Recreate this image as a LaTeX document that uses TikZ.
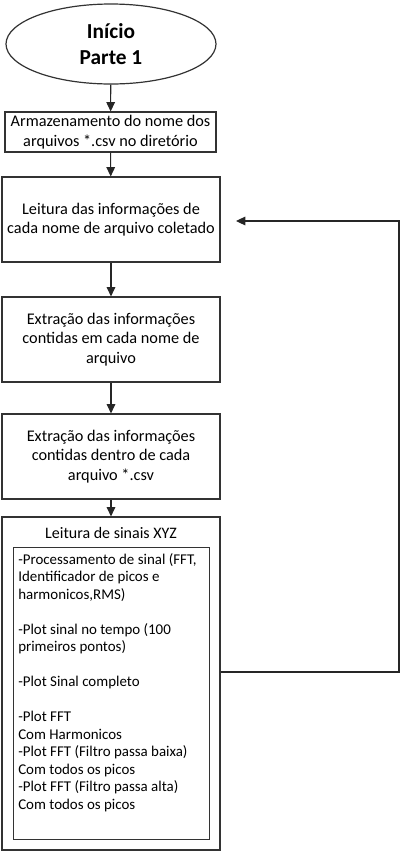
\documentclass[tikz,border=0pt]{standalone}
\usepackage{fontspec}
\setmainfont{Carlito}
\usetikzlibrary{arrows.meta,positioning,calc,shapes.geometric}

\tikzset{
  caixa/.style={draw=black!80, line width=0.9pt, align=center,
    minimum width=163.5pt, minimum height=63.75pt, inner sep=2pt,
    font=\fontsize{12.2}{14.6}\selectfont},
  seta/.style={draw=black!85, line width=0.8pt, -{Triangle[length=7pt,width=6.5pt]}},
}

\begin{document}
\begin{tikzpicture}[x=0.75pt,y=-0.75pt]
  \useasboundingbox (0,0) rectangle (400,851);
  % início
  \node[draw=black!80, line width=0.9pt, ellipse, minimum width=157.5pt, minimum height=60pt,
    align=center, font=\fontsize{16}{19}\selectfont\bfseries] (inicio) at (111,44) {Início\\Parte 1};
  % caixas do fluxo
  \node[caixa, minimum width=158.25pt, minimum height=30pt] (armaz) at (110.5,132)
    {Armazenamento do nome dos\\arquivos *.csv no diretório};
  \node[caixa] (leitura) at (111,219.5) {Leitura das informações de\\cada nome de arquivo coletado};
  \node[caixa] (extrnome) at (111,339.5) {Extração das informações\\contidas em cada nome de\\arquivo};
  \node[caixa] (extrcsv) at (111,456.5) {Extração das informações\\contidas dentro de cada\\arquivo *.csv};
  % leitura de sinais
  \node[caixa, minimum height=249.75pt] (sinais) at (111,683.5) {};
  \node[font=\fontsize{12}{14}\selectfont] (titulo) at (111,533) {Leitura de sinais XYZ};
  \node[draw=black!80, line width=0.9pt, anchor=north west, inner sep=0pt, font=\fontsize{11.2}{13.1}\selectfont]
    (proc) at (13,547) {%
    \begin{minipage}[t][219pt][t]{147pt}
      \leftskip=3.5pt\rightskip=0pt plus 1fil\parindent=0pt
      \vspace{4.5pt}
      -Processamento de sinal (FFT,\\
      Identificador de picos e\\
      harmonicos,RMS)\\[13.1pt]
      -Plot sinal no tempo (100\\
      primeiros pontos)\\[13.1pt]
      -Plot Sinal completo\\[13.1pt]
      -Plot FFT\\
      Com Harmonicos\\
      -Plot FFT (Filtro passa baixa)\\
      Com todos os picos\\
      -Plot FFT (Filtro passa alta)\\
      Com todos os picos
    \end{minipage}};
  % setas
  \draw[seta] (inicio) -- (armaz);
  \draw[seta] (armaz) -- (leitura);
  \draw[seta] (leitura) -- (extrnome);
  \draw[seta] (extrnome) -- (extrcsv);
  \draw[seta] (extrcsv) -- (sinais);
  % retorno
  \coordinate (retorno) at (399,672);
  \coordinate (volta) at (236,221);
  \draw[seta] (sinais.east |- retorno) -- (retorno) |- (volta);
\end{tikzpicture}
\end{document}
